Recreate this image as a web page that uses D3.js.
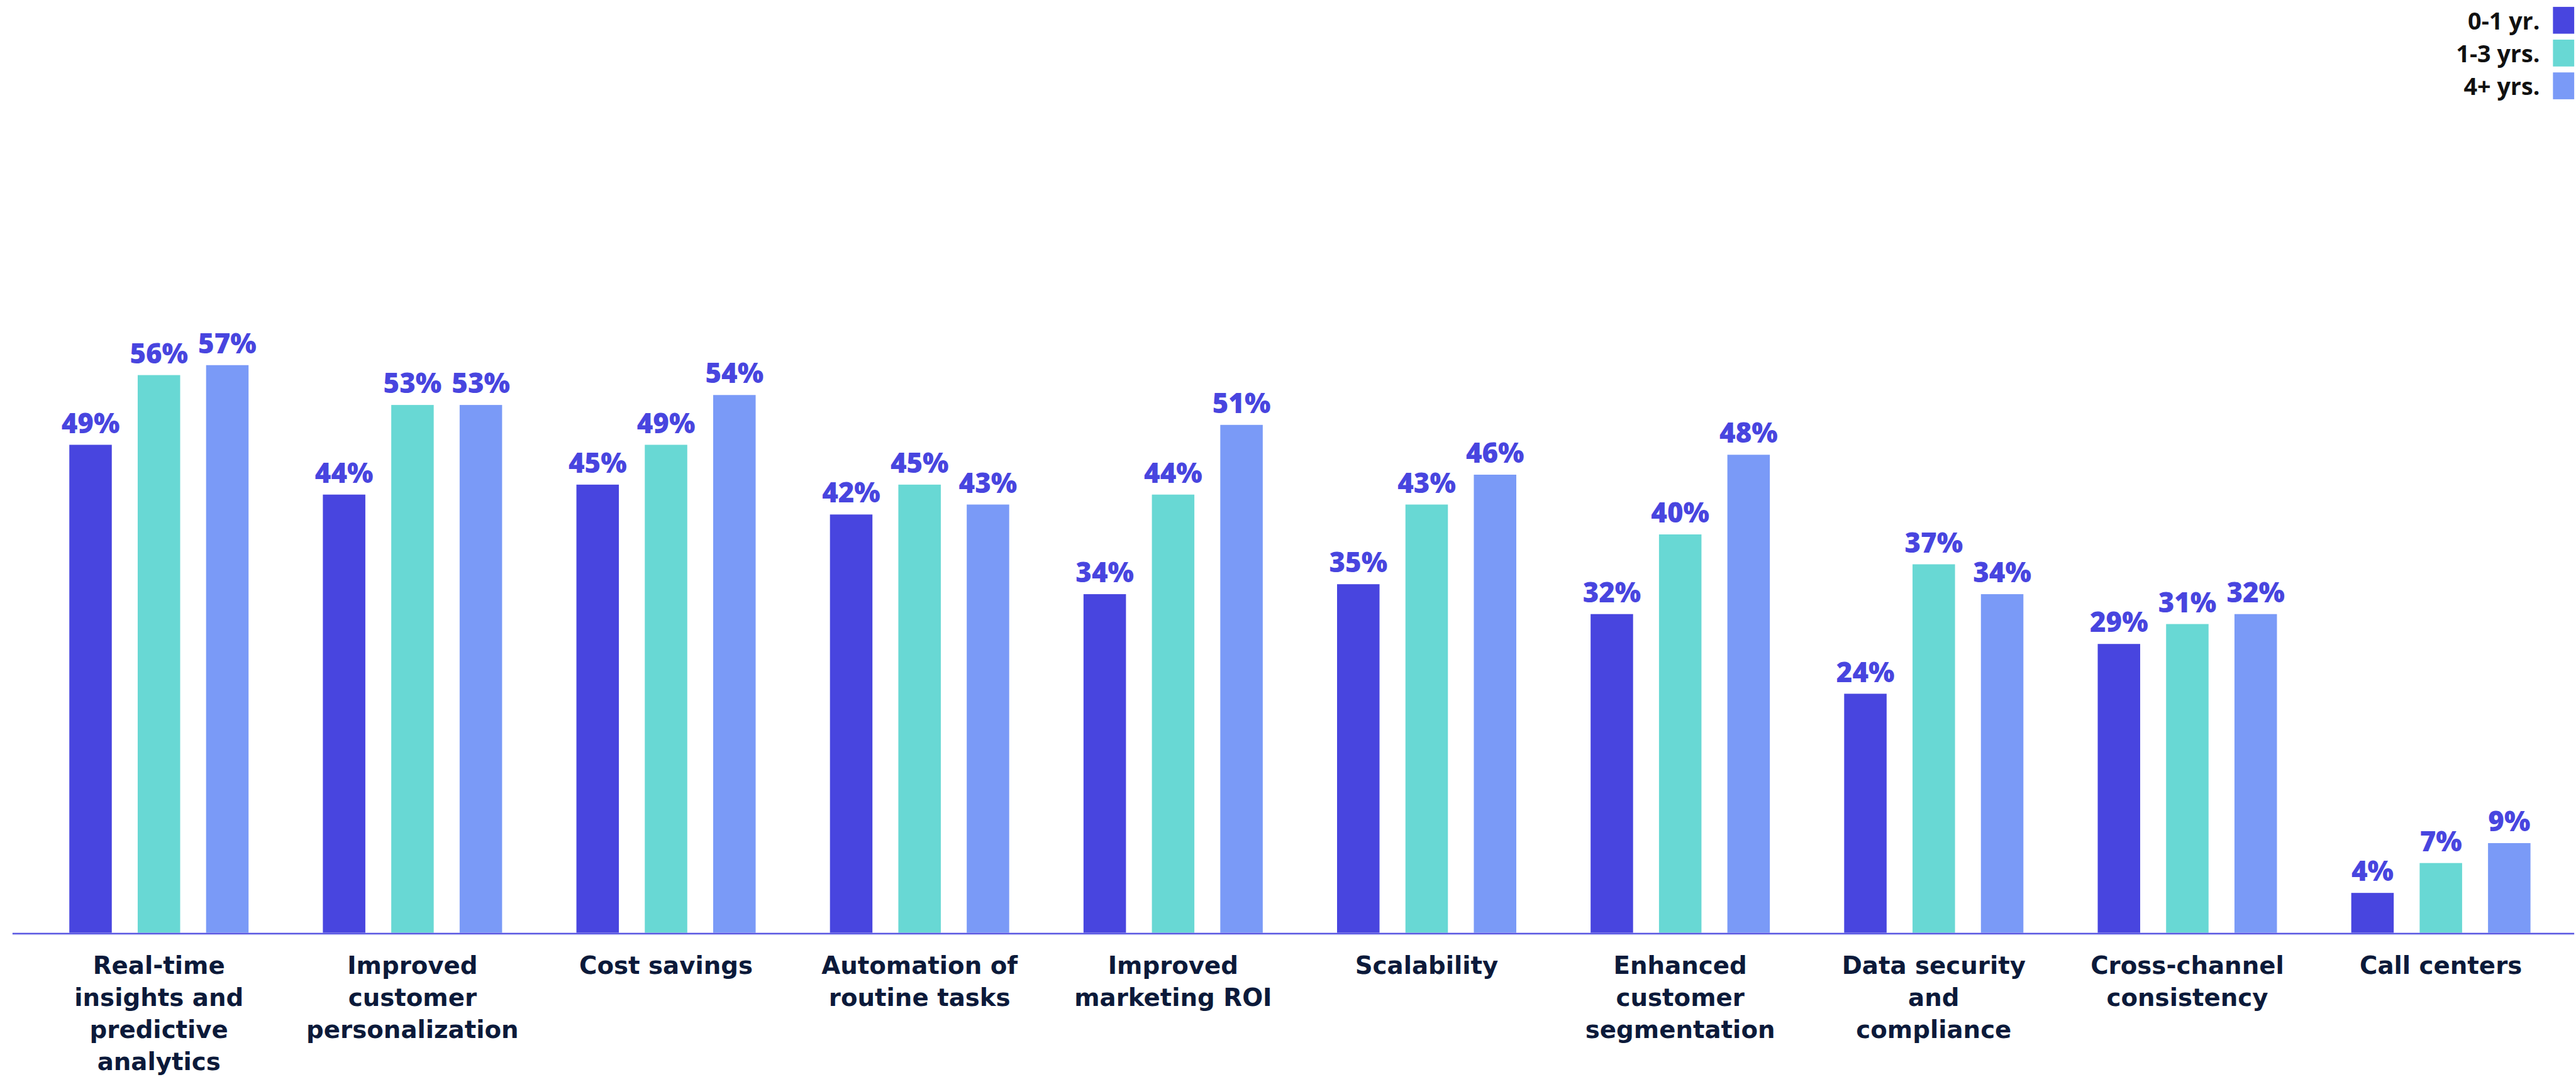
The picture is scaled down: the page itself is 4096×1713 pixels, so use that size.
<!DOCTYPE html>
<html>
<head>
<meta charset="utf-8">
<script src="https://cdn.jsdelivr.net/npm/d3@7"></script>
<style>
  html, body { margin: 0; padding: 0; background: #fff; }
  svg { display: block; }
</style>
</head>
<body>
<svg id="chart" width="4096" height="1713"></svg>
<script>
// categories, each label split into its lines
const categories = [
  'Real-time insights and predictive analytics',
  'Improved customer personalization',
  'Cost savings',
  'Automation of routine tasks',
  'Improved marketing ROI',
  'Scalability',
  'Enhanced customer segmentation',
  'Data security and compliance',
  'Cross-channel consistency',
  'Call centers'
]
const labelLines = [
  ['Real-time', 'insights and', 'predictive', 'analytics'],
  ['Improved', 'customer', 'personalization'],
  ['Cost savings'],
  ['Automation of', 'routine tasks'],
  ['Improved', 'marketing ROI'],
  ['Scalability'],
  ['Enhanced', 'customer', 'segmentation'],
  ['Data security', 'and', 'compliance'],
  ['Cross-channel', 'consistency'],
  ['Call centers']
]
const seriesNames = ['0-1 yr.', '1-3 yrs.', '4+ yrs.']
const yr0to1 = [49, 44, 45, 42, 34, 35, 32, 24, 29, 4]
const yr1to3 = [56, 53, 49, 45, 44, 43, 40, 37, 31, 7]
const yr4plus = [57, 53, 54, 43, 51, 46, 48, 34, 32, 9]
const colors = ['#4845df', '#68d8d4', '#7a9af7']

const values = [yr0to1, yr1to3, yr4plus]
const data = categories.map((c, i) => ({
  category: c,
  lines: labelLines[i],
  values: values.map((s, k) => ({ key: seriesNames[k], value: s[i] }))
}))

// drawn in the reference's pixel space, then scaled down
const k = 0.993
const svg = d3.select('#chart')
const g = svg.append('g').attr('transform', `scale(${k})`)

const baseY = 1494
const x0 = d3.scaleBand()
  .domain(categories)
  .range([51.5, 4111.5])
  .padding(0)
const x1 = d3.scaleBand()
  .domain(seriesNames)
  .range([-143.5, 143.5])
  .paddingInner(0.379)
  .paddingOuter(0)
const y = d3.scaleLinear()
  .domain([0, 60])
  .range([baseY, baseY - 60 * 15.95])
const color = d3.scaleOrdinal().domain(seriesNames).range(colors)

const groups = g.selectAll('g.group')
  .data(data)
  .join('g')
  .attr('class', 'group')
  .attr('transform', d => `translate(${x0(d.category) + x0.bandwidth() / 2},0)`)

groups.selectAll('rect')
  .data(d => d.values)
  .join('rect')
  .attr('x', d => x1(d.key))
  .attr('width', x1.bandwidth())
  .attr('y', d => y(d.value))
  .attr('height', d => y(0) - y(d.value))
  .attr('fill', d => color(d.key))

groups.selectAll('text.value')
  .data(d => d.values)
  .join('text')
  .attr('class', 'value')
  .attr('x', d => x1(d.key) + x1.bandwidth() / 2)
  .attr('y', d => y(d.value) - 19)
  .attr('text-anchor', 'middle')
  .attr('font-family', '"Open Sans", sans-serif')
  .attr('font-weight', 800)
  .attr('font-size', 44)
  .attr('fill', '#4845df')
  .text(d => d.value + '%')

// category labels
groups.append('text')
  .attr('text-anchor', 'middle')
  .attr('font-family', '"DejaVu Sans", sans-serif')
  .attr('font-weight', 700)
  .attr('font-size', 39)
  .attr('fill', '#0c1a3a')
  .selectAll('tspan')
  .data(d => d.lines)
  .join('tspan')
  .attr('x', 0)
  .attr('y', (d, i) => 1560 + i * 51.5)
  .text(d => d)

// baseline
g.append('line')
  .attr('x1', 20).attr('x2', 4122)
  .attr('y1', 1497).attr('y2', 1497)
  .attr('stroke', '#c4c6f4').attr('stroke-width', 1.5)
g.append('line')
  .attr('x1', 20).attr('x2', 4122)
  .attr('y1', 1495.2).attr('y2', 1495.2)
  .attr('stroke', '#4845df').attr('stroke-width', 2)

// legend
const legend = g.append('g')
  .selectAll('g')
  .data(seriesNames)
  .join('g')
  .attr('transform', (d, i) => `translate(0,${11 + i * 52.5})`)
legend.append('rect')
  .attr('x', 4088).attr('width', 34)
  .attr('y', 0).attr('height', 43)
  .attr('fill', d => color(d))
legend.append('text')
  .attr('x', 4067)
  .attr('y', 36)
  .attr('text-anchor', 'end')
  .attr('font-family', '"Open Sans", sans-serif')
  .attr('font-weight', 700)
  .attr('font-size', 38)
  .attr('fill', '#111')
  .text(d => d)
</script>
</body>
</html>
